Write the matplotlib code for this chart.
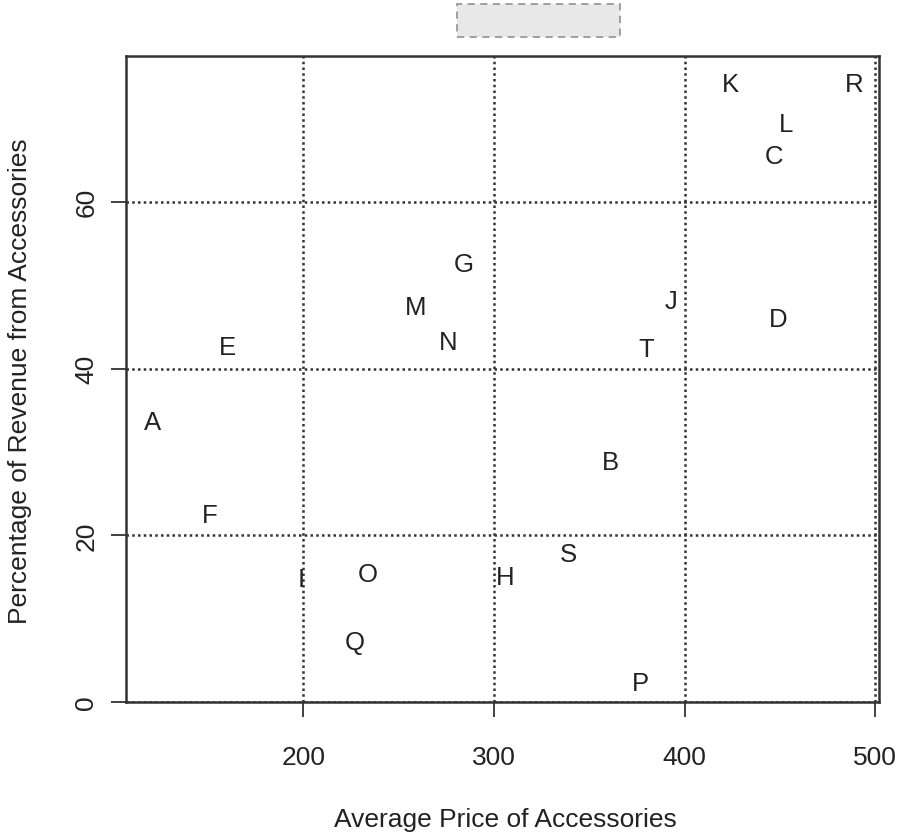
import matplotlib
matplotlib.use("Agg")
import matplotlib.pyplot as plt
from matplotlib.patches import Rectangle

plt.rcParams['font.family'] = ['Liberation Sans', 'DejaVu Sans']

# data
labels = ['A', 'B', 'C', 'D', 'E', 'F', 'G', 'H', 'I', 'J',
          'K', 'L', 'M', 'N', 'O', 'P', 'Q', 'R', 'S', 'T']
price = [121, 361, 447, 449, 160, 151, 284, 306, 199, 393,
         424, 453, 259, 276, 234, 377, 227, 489, 339, 380]
revenue = [33.6, 28.8, 65.5, 45.9, 42.6, 22.4, 52.5, 15.0, 14.8, 48.1,
           74.2, 69.3, 47.4, 43.2, 15.4, 2.3, 7.2, 74.2, 17.8, 42.4]

x_ticks = [200, 300, 400, 500]
y_ticks = [0, 20, 40, 60]

fig = plt.figure(figsize=(8.98, 8.37), dpi=100)
ax = fig.add_axes([126/898, 1-703/837, (879-126)/898, (703-57)/837])

for xt in x_ticks:
    ax.axvline(xt, color='#333333', ls=(0, (1, 1.3)), lw=1.8, zorder=1)
for yt in y_ticks:
    ax.axhline(yt, color='#333333', ls=(0, (1, 1.3)), lw=1.8, zorder=1)

for lab, xv, yv in zip(labels, price, revenue):
    ax.text(xv, yv, lab, ha='center', va='center', fontsize=18.5,
            color='#222222', zorder=3)

ax.set_xlim(107, 502)
ax.set_ylim(0, 77.5)
ax.set_xticks(x_ticks)
ax.set_yticks(y_ticks)
ax.tick_params(axis='both', direction='out', length=11, width=1.3,
               labelsize=19, labelcolor='#222222', color='#333333')
ax.tick_params(axis='x', pad=20)
ax.tick_params(axis='y', pad=9)
for t in ax.get_yticklabels():
    t.set_rotation(90)
    t.set_va('center')
for sp in ax.spines.values():
    sp.set_linewidth(1.8)
    sp.set_color('#333333')

fig.text(505/898, 1-820/837, 'Average Price of Accessories', ha='center',
         va='center', fontsize=19, color='#222222')
fig.text(20/898, 1-381/837, 'Percentage of Revenue from Accessories',
         ha='center', va='center', rotation=90, fontsize=19, color='#222222')

# grey placeholder box at the top
fig.patches.append(Rectangle((457/898, 1-38/837), 163/898, 33/837,
                             transform=fig.transFigure, facecolor='#e8e8e8',
                             edgecolor='#999999', ls=(0, (4, 3)), lw=1.3))

fig.savefig('out.png', dpi=100)
